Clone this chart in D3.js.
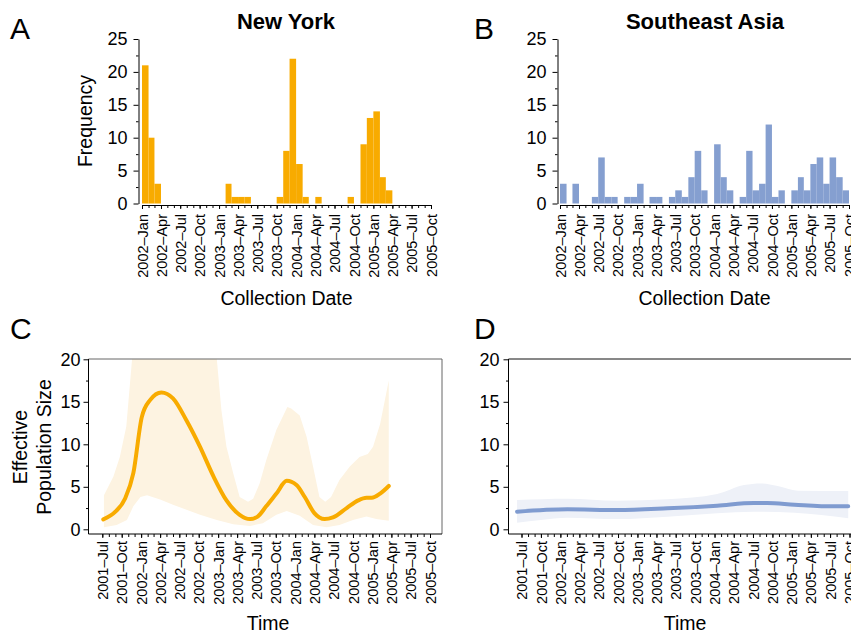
<!DOCTYPE html>
<html>
<head>
<meta charset="utf-8">
<script src="https://cdn.jsdelivr.net/npm/d3@7"></script>
<style>
  body { margin: 0; background: #fff; }
  svg { display: block; font-family: "Liberation Sans", Arial, sans-serif; }
  .axis path, .axis line { stroke: #000; }
  .axis text { font-family: "Liberation Sans", Arial, sans-serif; fill: #000; }
</style>
</head>
<body>
<div class="visualization"></div>
<script>
// monthly sample counts, first bin = 2002-Jan
const nyCounts = [21, 10, 3, 0, 0, 0, 0, 0, 0, 0, 0, 0, 0, 3, 1, 1, 1, 0, 0, 0, 0, 1, 8, 22, 6, 1, 0, 1, 0, 0, 0, 0, 1, 0, 9, 13, 14, 4, 2, 0, 0, 0, 0, 0, 0];
const seaCounts = [3, 0, 3, 0, 0, 1, 7, 1, 1, 0, 1, 1, 3, 0, 1, 1, 0, 1, 2, 1, 4, 8, 2, 0, 9, 4, 2, 0, 1, 8, 2, 3, 12, 1, 2, 0, 2, 4, 2, 6, 7, 3, 7, 4, 2];

// skyline curves, time in months after 2001-Jul
const nyMonths = [0.15, 2, 3.5, 4.8, 6.1, 7.4, 9.2, 11, 13.1, 15.2, 17.3, 19.3, 21.4, 23, 24.2, 25.5, 27.1, 28.7, 30.2, 31.5, 33, 34.6, 35.9, 38, 39.8, 41.1, 41.9, 43.2, 44.6];
const nyMedian = [1.17, 2.07, 3.6, 6.6, 13.2, 15.2, 16.1, 15.4, 12.8, 9.7, 6.2, 3.4, 1.7, 1.2, 1.5, 2.7, 4.2, 5.7, 5.2, 3.8, 1.9, 1.2, 1.4, 2.5, 3.4, 3.7, 3.7, 4.2, 5.1];
const nyUpperMonths = [0.25, 1.7, 2.7, 3.7, 4.6, 5.5, 10, 16, 17.8, 18.5, 19.3, 20.4, 21.4, 22.7, 23.5, 24.5, 25.5, 27.1, 28.8, 29.4, 30.7, 31.8, 32.8, 33.8, 34.7, 35.6, 36.9, 38.5, 40, 41.3, 42.1, 43.2, 44.6];
const nyUpper = [4.0, 6.2, 8.5, 12.1, 20, 30, 40, 30, 20, 14, 9.7, 6.6, 3.8, 3.25, 3.6, 5.4, 8.1, 11.7, 14.4, 14.2, 13.4, 10.9, 7.4, 3.8, 3.25, 3.8, 5.8, 7.4, 8.5, 8.85, 9.7, 12.4, 17.5];
const nyLowerMonths = [0.25, 2.2, 3.8, 4.8, 5.9, 6.9, 9, 11, 13.1, 15.2, 17.8, 20.4, 23, 25, 27.1, 28.7, 30.7, 32.8, 34.9, 36.9, 39, 41.1, 42.6, 44.6];
const nyLower = [0.23, 0.5, 1.1, 2.7, 3.8, 4.0, 3.5, 2.9, 2.3, 1.7, 1.1, 0.6, 0.4, 0.7, 1.7, 2.15, 1.6, 0.5, 0.23, 0.5, 1.1, 1.5, 1.2, 1.0];

const seaMonths = [-0.7, 7.1, 14.9, 22.7, 30.4, 36.1, 38.2, 42.4, 48.6, 50.8];
const seaMedian = [2.07, 2.35, 2.27, 2.47, 2.78, 3.09, 3.09, 2.9, 2.7, 2.7];
const seaUpperMonths = [-0.7, 7.1, 14.9, 22.7, 30.4, 34.6, 37.2, 39.8, 42.9, 50.8];
const seaUpper = [3.45, 3.6, 3.37, 3.53, 4.15, 5.2, 5.4, 5.1, 4.55, 4.5];
const seaLowerMonths = [-0.7, 3, 7.1, 14.9, 22.7, 30.4, 36.1, 42.4, 50.8];
const seaLower = [0.78, 1.1, 1.37, 1.2, 1.48, 1.88, 2.07, 1.95, 1.3];

const orange = "#f8ab00";
const orangeBand = "#fdf3e1";
const blue = "#859fd0";
const blueLine = "#7f9bd0";
const blueBand = "#eef1f8";

const width = 851, height = 634;
const fmt = d3.timeFormat("%Y\u2013%b");

const svg = d3.select(".visualization")
  .append("svg")
  .attr("width", width)
  .attr("height", height);

function monthDate(m) {
  const base = d3.timeMonth.offset(new Date(2001, 6, 1), Math.floor(m));
  const next = d3.timeMonth.offset(base, 1);
  return new Date(+base + (m - Math.floor(m)) * (next - base));
}

function panelLetter(txt, x, y) {
  svg.append("text").attr("x", x).attr("y", y)
    .style("font-size", "30px").text(txt);
}

function yAxisWithMinor(yScale, axisX, maxVal, step, pad) {
  const g = svg.append("g").attr("class", "axis")
    .attr("transform", `translate(${axisX},0)`);
  g.call(d3.axisLeft(yScale).tickValues(d3.range(0, maxVal + 1, step))
    .tickSize(5).tickSizeOuter(0).tickPadding(pad))
    .selectAll("text").style("font-size", "18px");
  g.append("g").call(d3.axisLeft(yScale)
    .tickValues(d3.range(step / 2, maxVal, step)).tickSize(2.5).tickFormat(""))
    .select(".domain").remove();
  return g;
}

function timeAxis(xScale, axisY, from, to, gap) {
  const monthly = d3.timeMonth.range(from, d3.timeMonth.offset(to, 1));
  const g = svg.append("g").attr("class", "axis")
    .attr("transform", `translate(0,${axisY})`);
  g.call(d3.axisBottom(xScale).tickValues(monthly.filter(d => d.getMonth() % 3 === 0))
    .tickSize(4).tickSizeOuter(0).tickFormat(fmt));
  g.selectAll("text")
    .attr("transform", "rotate(-90)")
    .attr("x", -gap).attr("y", 0).attr("dy", "0.35em")
    .style("text-anchor", "end")
    .style("font-size", "14.5px");
  g.append("g").call(d3.axisBottom(xScale).tickValues(monthly).tickSize(3).tickFormat(""))
    .select(".domain").remove();
  return g;
}

// ---------- A / B : histograms ----------
function histogram(counts, color, axisX, x0, x1, title, titleX) {
  const bins = d3.timeMonth.range(new Date(2002, 0, 1), new Date(2005, 9, 1));
  const x = d3.scaleTime()
    .domain([new Date(2002, 0, 1), new Date(2005, 9, 1)])
    .range([x0, x1]);
  const y = d3.scaleLinear().domain([0, 25]).range([203.5, 39]);

  svg.append("g").selectAll("rect")
    .data(bins)
    .enter()
    .append("rect")
    .attr("x", d => x(d))
    .attr("width", d => x(d3.timeMonth.offset(d, 1)) - x(d))
    .attr("y", (d, i) => y(counts[i]))
    .attr("height", (d, i) => y(0) - y(counts[i]))
    .attr("fill", color);

  yAxisWithMinor(y, axisX, 25, 5, 6);
  timeAxis(x, 205, new Date(2002, 0, 1), new Date(2005, 9, 1), 9);

  svg.append("text")
    .attr("x", titleX).attr("y", 29)
    .attr("text-anchor", "middle")
    .style("font-size", "22px").style("font-weight", "bold")
    .text(title);

  svg.append("text")
    .attr("x", (x0 + x1) / 2).attr("y", 305)
    .attr("text-anchor", "middle")
    .style("font-size", "19.5px")
    .text("Collection Date");
}

histogram(nyCounts, orange, 138.5, 142, 431, "New York", 286);
histogram(seaCounts, blue, 557.5, 560, 849, "Southeast Asia", 705);

svg.append("text")
  .attr("transform", "translate(92,121) rotate(-90)")
  .attr("text-anchor", "middle")
  .style("font-size", "19.5px")
  .text("Frequency");

panelLetter("A", 10, 39);
panelLetter("B", 474, 39);

// ---------- C / D : skyline plots ----------
function skyline(opts) {
  const { left, right, top, bottom, x0, x1, frameColor, id } = opts;
  const x = d3.scaleTime()
    .domain([new Date(2001, 6, 1), new Date(2005, 9, 1)])
    .range([x0, x1]);
  const y = d3.scaleLinear().domain([0, 20]).range([529.3, 359.3]);

  svg.append("clipPath").attr("id", id)
    .append("rect")
    .attr("x", left).attr("y", top)
    .attr("width", right - left).attr("height", bottom - top);

  const upper = opts.upperMonths.map((m, i) => [x(monthDate(m)), y(opts.upper[i])]);
  const lower = opts.lowerMonths.map((m, i) => [x(monthDate(m)), y(opts.lower[i])]).reverse();

  const bandLine = d3.line().curve(opts.bandCurve);
  svg.append("path")
    .attr("clip-path", `url(#${id})`)
    .attr("d", bandLine(upper) + "L" + bandLine(lower).slice(1) + "Z")
    .attr("fill", opts.bandColor);

  svg.append("path")
    .datum(opts.months.map((m, i) => [monthDate(m), opts.median[i]]))
    .attr("clip-path", `url(#${id})`)
    .attr("d", d3.line().curve(d3.curveMonotoneX)
      .x(d => x(d[0])).y(d => y(d[1])))
    .attr("fill", "none")
    .attr("stroke", opts.lineColor)
    .attr("stroke-width", 4)
    .attr("stroke-linecap", "round");

  // frame
  svg.append("path")
    .attr("d", `M${left},${top}H${right}V${bottom}`)
    .attr("fill", "none")
    .attr("stroke", frameColor);

  const yg = yAxisWithMinor(y, left, 20, 5, opts.pad);
  yg.select(".domain").remove();
  svg.append("line")
    .attr("x1", left).attr("x2", left).attr("y1", top).attr("y2", bottom)
    .attr("stroke", "#000");

  const xg = timeAxis(x, bottom, new Date(2001, 6, 1), new Date(2005, 9, 1), 7);
  xg.select(".domain").remove();
  svg.append("line")
    .attr("x1", left).attr("x2", right).attr("y1", bottom).attr("y2", bottom)
    .attr("stroke", "#000");

  svg.append("text")
    .attr("x", opts.timeX).attr("y", 630)
    .attr("text-anchor", "middle")
    .style("font-size", "19.5px")
    .text("Time");
}

skyline({
  id: "clipC", left: 88.5, right: 442, top: 359, bottom: 534,
  x0: 102.3, x1: 430, frameColor: "#666", pad: 3,
  months: nyMonths, median: nyMedian,
  upperMonths: nyUpperMonths, upper: nyUpper,
  lowerMonths: nyLowerMonths, lower: nyLower,
  bandCurve: d3.curveLinear,
  bandColor: orangeBand, lineColor: orange, timeX: 268
});

skyline({
  id: "clipD", left: 508.5, right: 870, top: 359, bottom: 534,
  x0: 521.5, x1: 849.5, frameColor: "#111", pad: 4,
  months: seaMonths, median: seaMedian,
  upperMonths: seaUpperMonths, upper: seaUpper,
  lowerMonths: seaLowerMonths, lower: seaLower,
  bandCurve: d3.curveMonotoneX,
  bandColor: blueBand, lineColor: blueLine, timeX: 685
});

svg.append("text")
  .attr("transform", "translate(27,447) rotate(-90)")
  .attr("text-anchor", "middle")
  .style("font-size", "19.5px")
  .text("Effective");
svg.append("text")
  .attr("transform", "translate(51,447) rotate(-90)")
  .attr("text-anchor", "middle")
  .style("font-size", "19.5px")
  .text("Population Size");

panelLetter("C", 10, 339);
panelLetter("D", 474, 339);
</script>
</body>
</html>
